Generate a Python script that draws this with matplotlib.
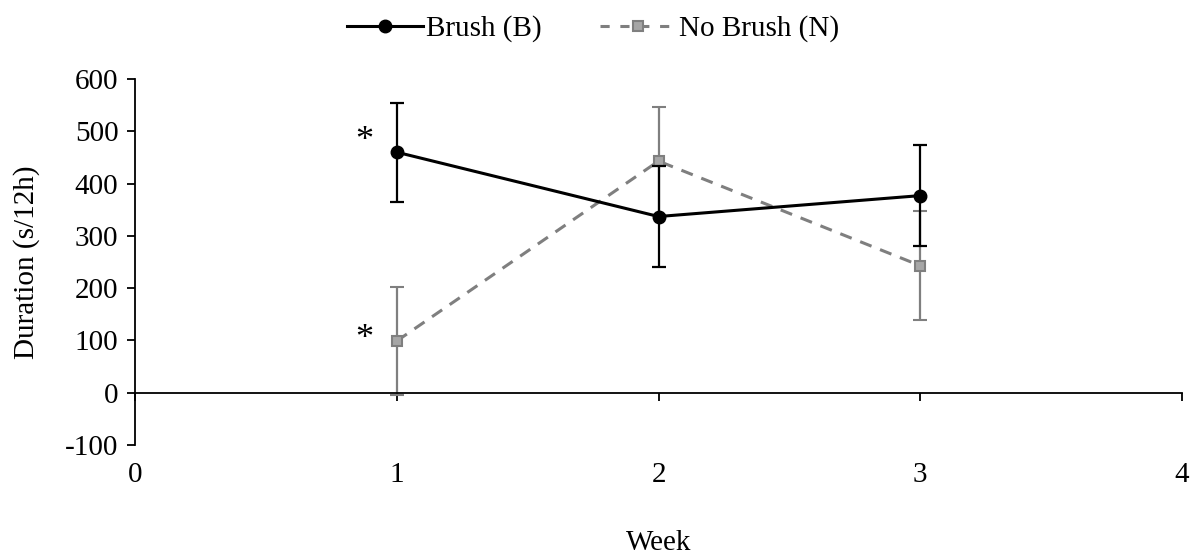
import matplotlib.pyplot as plt
from matplotlib.lines import Line2D

weeks = [1, 2, 3]
brush = [460, 337, 377]
brush_err = [95, 96, 96]
no_brush = [99, 443, 243]
no_brush_err = [104, 104, 104]
x_ticks = [0, 1, 2, 3, 4]
y_ticks = [-100, 0, 100, 200, 300, 400, 500, 600]
y_labels = ["-100", "0", "100", "200", "300", "400", "500", "600"]

plt.rcParams["font.family"] = ["Liberation Serif", "DejaVu Serif"]
plt.rcParams["font.size"] = 21

fig = plt.figure(figsize=(11.93, 5.56), dpi=100)
ax = fig.add_axes([0.1132, 0.1996, 0.8776, 0.6583])

gray = "#7f7f7f"
ax.errorbar(weeks, no_brush, yerr=no_brush_err, color=gray, ecolor=gray,
            elinewidth=1.6, capsize=5, capthick=1.6, linestyle="--", dashes=(4, 3),
            linewidth=2.2, marker="s", markersize=7, markerfacecolor="#a6a6a6",
            markeredgecolor=gray, markeredgewidth=1.5, zorder=2)
ax.errorbar(weeks, brush, yerr=brush_err, color="black", ecolor="black",
            elinewidth=1.6, capsize=5, capthick=1.6, linewidth=2.2, marker="o",
            markersize=9, zorder=3)

ax.set_xlim(0, 4)
ax.set_ylim(-100, 600)
ax.set_xticks(x_ticks)
ax.set_yticks(y_ticks)
ax.set_yticklabels(y_labels)

ax.spines["top"].set_visible(False)
ax.spines["right"].set_visible(False)
ax.spines["bottom"].set_position(("data", 0))
ax.spines["left"].set_bounds(-100, 600)
for s in ["bottom", "left"]:
    ax.spines[s].set_linewidth(1.3)

ax.tick_params(axis="both", direction="out", length=6, width=1.3)
ax.tick_params(axis="x", pad=44)
ax.tick_params(axis="y", pad=6)

ax.set_xlabel("Week", labelpad=30)
ax.set_ylabel("Duration (s/12h)", labelpad=18)

ax.text(0.875, 480, "*", ha="center", va="center", fontsize=26)
ax.text(0.875, 102, "*", ha="center", va="center", fontsize=26)

handles = [
    Line2D([], [], color="black", linewidth=2.2, marker="o", markersize=9),
    Line2D([], [], color=gray, linewidth=2.2, linestyle="--", dashes=(3, 3.5),
           marker="s", markersize=7, markerfacecolor="#a6a6a6",
           markeredgecolor=gray, markeredgewidth=1.5),
]
fig.legend(handles, ["Brush (B)", "No Brush (N)"], loc="upper center",
           bbox_to_anchor=(0.497, 1.02), ncol=2, frameon=False,
           handlelength=2.6, columnspacing=2.0, handletextpad=0.1)

fig.savefig("out.png", dpi=100)
